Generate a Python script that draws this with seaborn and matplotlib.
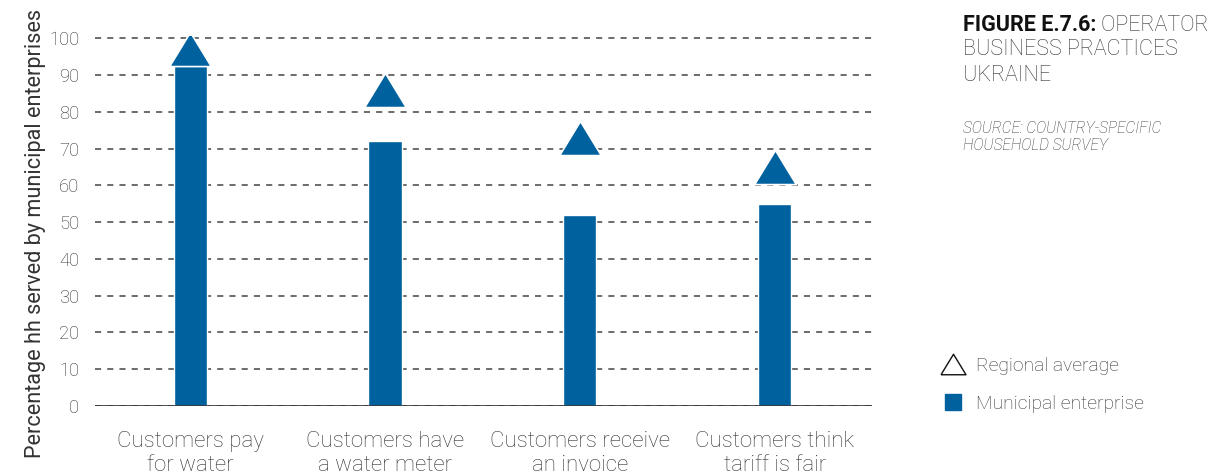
import matplotlib
matplotlib.use('Agg')
import matplotlib.pyplot as plt
import seaborn as sns
import pandas as pd
from matplotlib.lines import Line2D

# data
categories = ['Customers pay\nfor water', 'Customers have\na water meter',
              'Customers receive\nan invoice', 'Customers think\ntariff is fair']
municipal = [93, 72, 52, 55]
regional = [97, 86, 73, 65]
yticks = list(range(0, 101, 10))

blue = '#00619F'
txt = '#333333'

sns.set_theme(style='white')
plt.rcParams['font.family'] = ['Roboto', 'DejaVu Sans']
plt.rcParams['font.weight'] = 'light'

df = pd.DataFrame({'cat': categories, 'municipal': municipal, 'regional': regional})

fig = plt.figure(figsize=(12.13, 4.74), dpi=100)
ax = fig.add_axes([0.078, 0.1435, 0.641, 0.7805])

sns.barplot(data=df, x='cat', y='municipal', color=blue, saturation=1,
            width=0.17, ax=ax, zorder=3)

# slightly flattened triangle, like the original markers
tri = [(-1, -0.82), (1, -0.82), (0, 0.82), (-1, -0.82)]
ax.scatter(range(len(categories)), df['regional'], marker=tri, s=900,
           color=blue, edgecolors='white', linewidths=1.2, zorder=4)

ax.set_xlim(-0.49, 3.5)
ax.set_ylim(0, 100.6)
ax.set_yticks(yticks)
ax.yaxis.grid(True, linestyle=(0, (4, 4)), color='#444444', linewidth=1.1, zorder=1)
ax.axhline(0, color='#333333', linewidth=1.2, zorder=5)
for s in ax.spines.values():
    s.set_visible(False)
ax.tick_params(axis='y', length=0, pad=11, labelsize=13.2, labelcolor=txt)
ax.tick_params(axis='x', length=0, pad=18, labelsize=16, labelcolor=txt)
for lab in ax.get_xticklabels():
    lab.set_linespacing(1.2)
ax.set_xlabel('')
ax.set_ylabel('Percentage hh served by municipal enterprises', fontsize=15.6,
              color=txt)
ax.yaxis.set_label_coords(-0.063, 0.467)

# title block on the right
t1 = fig.text(0.794, 0.97, 'FIGURE E.7.6:', fontsize=15.5, fontweight='bold',
              color='#111111', va='top', ha='left')
ax.annotate(' OPERATOR', xy=(1, 0), xycoords=t1, fontsize=15.5, color=txt,
            va='bottom', ha='left', fontweight='light', annotation_clip=False)
fig.text(0.794, 0.918, 'BUSINESS PRACTICES\nUKRAINE', fontsize=15.5, color=txt,
         va='top', ha='left', linespacing=1.3)
fig.text(0.794, 0.745, 'SOURCE: COUNTRY-SPECIFIC\nHOUSEHOLD SURVEY', fontsize=11.2,
         style='italic', color=txt, va='top', ha='left', linespacing=1.2)

handles = [
    Line2D([], [], marker=tri, linestyle='none', markersize=18,
           markerfacecolor='white', markeredgecolor='#111111', markeredgewidth=1.0),
    Line2D([], [], marker='s', linestyle='none', markersize=12,
           markerfacecolor=blue, markeredgecolor=blue),
]
fig.legend(handles, ['Regional average', 'Municipal enterprise'],
           loc='upper left', bbox_to_anchor=(0.759, 0.283), frameon=False,
           fontsize=13.9, labelcolor=txt, handletextpad=0.45, labelspacing=1.0,
           handlelength=1.5)

fig.savefig('out.png', dpi=100)
